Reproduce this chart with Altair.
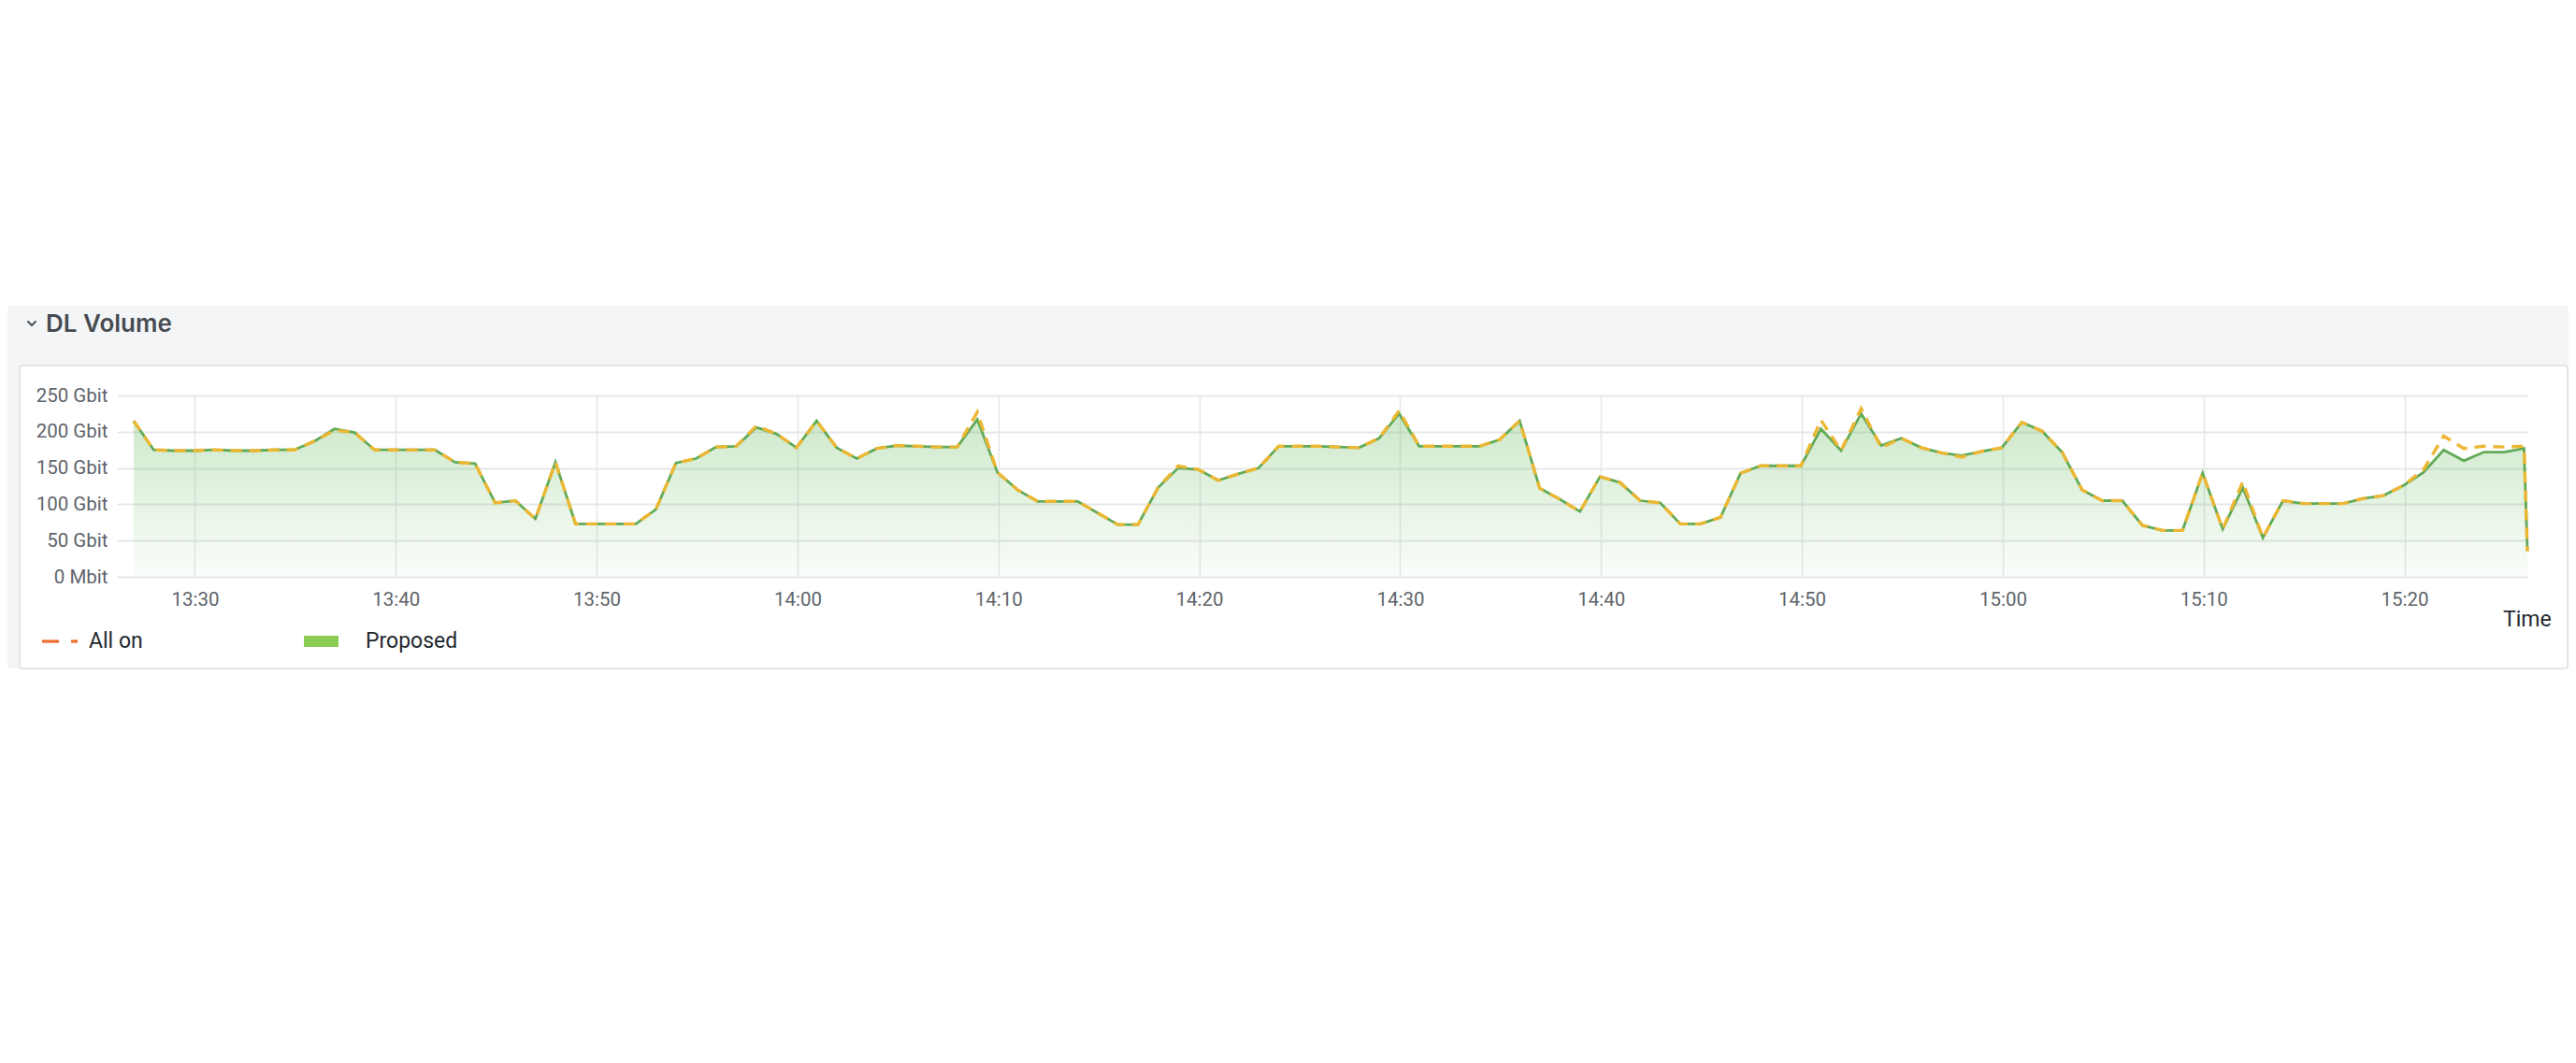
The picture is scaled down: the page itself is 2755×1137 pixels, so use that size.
import altair as alt
import pandas as pd
from datetime import datetime, timedelta

# ---- data (Gbit, one sample per minute + final partial sample)
proposed = [215, 175, 174, 174, 175, 174, 174, 175, 175, 187, 204, 199, 175, 175, 175, 175,
            158, 156, 102, 105, 80, 158, 73, 73,
            73, 73, 93, 157, 163, 179, 180, 206, 197, 178, 215, 178, 163, 177, 181, 180,
            179, 179, 217, 144, 120, 104, 104,
            104, 88, 72, 72, 123, 150, 148, 133, 142, 150, 180, 180, 180, 179, 178, 191,
            225, 180, 180, 180, 180, 189, 215, 122,
            107, 90, 138, 130, 105, 102, 73, 73, 82, 143, 153, 153, 153, 204, 174, 225,
            181, 191, 178, 171, 167, 173, 178, 213,
            201, 172, 120, 105, 105, 71, 64, 64, 143, 66, 123, 54, 105, 101, 101, 101,
            108, 112, 126, 144, 175, 160, 172, 172, 177,
            37]
all_on = [215, 175, 174, 174, 175, 174, 174, 175, 175, 187, 202, 199, 175, 175, 175, 175,
          158, 156, 102, 105, 80, 158, 73, 73,
          73, 73, 93, 157, 163, 179, 180, 208, 197, 178, 215, 178, 163, 177, 181, 180,
          179, 179, 227, 144, 120, 104, 104,
          104, 88, 72, 72, 123, 153, 148, 133, 142, 150, 180, 180, 180, 179, 178, 191,
          229, 180, 180, 180, 180, 189, 215, 122,
          107, 90, 138, 130, 105, 102, 73, 73, 82, 143, 153, 153, 153, 216, 174, 232,
          178, 191, 178, 171, 165, 173, 178, 213,
          201, 172, 120, 105, 105, 71, 64, 64, 143, 66, 131, 54, 105, 101, 101, 101,
          108, 112, 126, 148, 194, 177, 180, 179, 180,
          35]
first_sample = datetime(2024, 1, 1, 13, 26, 57)
last_sample = datetime(2024, 1, 1, 15, 26, 7)
times = [first_sample + timedelta(minutes=i) for i in range(len(proposed) - 1)] + [last_sample]

x_ticks = ["13:30", "13:40", "13:50", "14:00", "14:10", "14:20", "14:30",
           "14:40", "14:50", "15:00", "15:10", "15:20"]
y_ticks = [0, 50, 100, 150, 200, 250]
y_labels = ["0 Mbit", "50 Gbit", "100 Gbit", "150 Gbit", "200 Gbit", "250 Gbit"]
series_names = ["All on", "Proposed"]
panel_title = "DL Volume"
x_title = "Time"

df = pd.DataFrame({"t": pd.to_datetime(times), "proposed": proposed, "allon": all_on})
one = pd.DataFrame({"k": [0]})

W, H = 2578, 194

def dt(hm, s=0):
    h, m = hm.split(":")
    return alt.DateTime(year=2024, month=1, date=1, hours=int(h), minutes=int(m), seconds=s)

label_expr = "".join(f"datum.value == {v} ? '{l}' : " for v, l in zip(y_ticks, y_labels)) + "''"

x_enc = alt.X("t:T", title=None,
              scale=alt.Scale(domain=[dt("13:26", 7), dt("15:26", 7)]),
              axis=alt.Axis(values=[dt(v) for v in x_ticks], format="%H:%M",
                            grid=True, gridColor="#e6e7e8", gridWidth=1.6,
                            ticks=False, tickSize=0, domain=False,
                            labelFont="Roboto", labelFontSize=20.5, labelColor="#60646a",
                            labelBaseline="middle", labelPadding=24))

def y_enc(field):
    return alt.Y(f"{field}:Q", title=None,
                 scale=alt.Scale(domain=[0, 250], nice=False, zero=True),
                 axis=alt.Axis(values=y_ticks, labelExpr=label_expr,
                               grid=True, gridColor="#e6e7e8", gridWidth=1.8,
                               ticks=False, tickSize=0, domain=False,
                               labelFont="Roboto", labelFontSize=20.5, labelColor="#60646a",
                               labelBaseline="middle", labelPadding=10))

base = alt.Chart(df)

area = base.mark_area(
    line=False, interpolate="linear",
    color=alt.Gradient(gradient="linear", x1=0, x2=0, y1=0, y2=1,
                       stops=[alt.GradientStop(color="rgba(115,191,105,0.36)", offset=0),
                              alt.GradientStop(color="rgba(115,191,105,0.03)", offset=1)])
).encode(x=x_enc, y=y_enc("proposed"))

green_line = base.mark_line(color="#62aa57", strokeWidth=2.8).encode(x=x_enc, y=y_enc("proposed"))
dash_line = base.mark_line(color="#ecb733", strokeWidth=3.4, strokeDash=[12, 8]).encode(
    x=x_enc, y=y_enc("allon"))

deco = alt.Chart(one)
GRAY = "#f4f5f6"
bands = [
    deco.mark_rect(color=GRAY).encode(x=alt.value(-117), x2=alt.value(2630), y=alt.value(-96), y2=alt.value(-32)),
    deco.mark_rect(color=GRAY).encode(x=alt.value(-117), x2=alt.value(-104), y=alt.value(-32), y2=alt.value(292)),
    deco.mark_rect(color=GRAY).encode(x=alt.value(2621), x2=alt.value(2630), y=alt.value(-32), y2=alt.value(292)),
    deco.mark_rect(fill="transparent", stroke="#dcdee1", strokeWidth=1.5, cornerRadius=3).encode(
        x=alt.value(-104), x2=alt.value(2621), y=alt.value(-32), y2=alt.value(292)),
]

chev1 = deco.mark_rule(color="#4a5058", strokeWidth=2, strokeCap="round").encode(
    x=alt.value(-95), y=alt.value(-79), x2=alt.value(-91), y2=alt.value(-75))
chev2 = deco.mark_rule(color="#4a5058", strokeWidth=2, strokeCap="round").encode(
    x=alt.value(-91), y=alt.value(-75), x2=alt.value(-87), y2=alt.value(-79))
title = deco.mark_text(text=panel_title, align="left", baseline="middle", font="Inter",
                       fontSize=26, fontWeight=600, color="#464b52").encode(
    x=alt.value(-76), y=alt.value(-76))

leg_d1 = deco.mark_rule(color="#ee6d2c", strokeWidth=3.2).encode(
    x=alt.value(-80), x2=alt.value(-62), y=alt.value(263))
leg_d2 = deco.mark_rule(color="#ee6d2c", strokeWidth=3.2).encode(
    x=alt.value(-49), x2=alt.value(-42), y=alt.value(263))
leg_t1 = deco.mark_text(text=series_names[0], align="left", baseline="middle", font="Roboto",
                        fontSize=23, color="#24292e").encode(x=alt.value(-30), y=alt.value(263))
leg_r = deco.mark_rect(color="#8bcb51").encode(
    x=alt.value(200), x2=alt.value(237), y=alt.value(257), y2=alt.value(269))
leg_t2 = deco.mark_text(text=series_names[1], align="left", baseline="middle", font="Roboto",
                        fontSize=23, color="#24292e").encode(x=alt.value(266), y=alt.value(263))
time_t = deco.mark_text(text=x_title, align="left", baseline="middle", font="Roboto",
                        fontSize=23, color="#24292e").encode(x=alt.value(2552), y=alt.value(240))

chart = alt.layer(
    *bands, chev1, chev2, title,
    area, green_line, dash_line,
    leg_d1, leg_d2, leg_t1, leg_r, leg_t2, time_t,
).properties(
    width=W, height=H,
    autosize=alt.AutoSizeParams(type="none"),
    padding={"left": 117, "top": 415, "right": 44, "bottom": 380},
    background="white",
).configure_view(strokeWidth=0)

chart.save("out.html", embed_options={"renderer": "svg", "actions": False})
